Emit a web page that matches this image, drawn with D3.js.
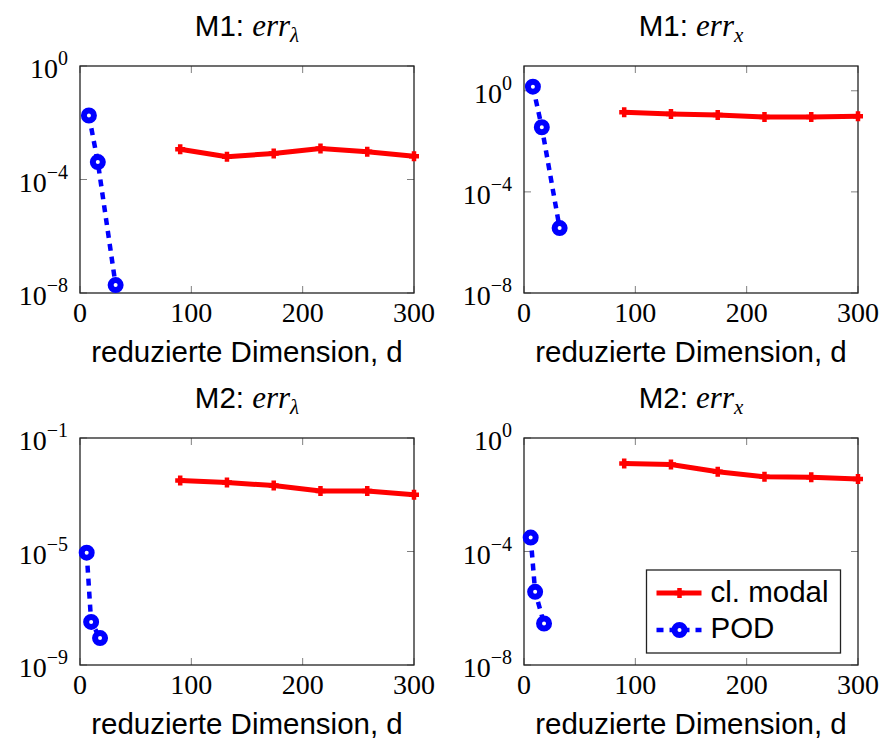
<!DOCTYPE html>
<html>
<head>
<meta charset="utf-8">
<script src="https://cdn.jsdelivr.net/npm/d3@7"></script>
<style>
  body { margin: 0; background: #fff; }
  svg { display: block; }
</style>
</head>
<body>
<div id="chart"></div>
<script>
// DATA
var xTickValues = [0, 100, 200, 300];
var modalDims = [90, 132, 174, 216, 258, 300];
var podDimsM1 = [8, 16, 32];
var podDimsM2 = [6, 10, 18];

var modalM1Lambda = [1.17e-3, 6.3e-4, 8.3e-4, 1.23e-3, 9.5e-4, 6.6e-4];
var podM1Lambda = [1.8e-2, 4.1e-4, 1.9e-8];

var modalM1X = [0.14, 0.12, 0.11, 0.091, 0.091, 0.098];
var podM1X = [1.45, 0.036, 3.7e-6];

var modalM2Lambda = [3.2e-3, 2.7e-3, 2.1e-3, 1.35e-3, 1.35e-3, 1.0e-3];
var podM2Lambda = [9.1e-6, 3.3e-8, 8.9e-9];

var modalM2X = [0.127, 0.117, 0.065, 0.043, 0.041, 0.036];
var podM2X = [3.1e-4, 3.8e-6, 2.9e-7];

var legendLabels = ["cl. modal", "POD"];

// panels
var panels = [
  { title: "M1: ", sub: "λ", x0: 80, y0: 66, yDomain: [1e-8, 1], yTicks: [0, -4, -8],
    modal: modalM1Lambda, podX: podDimsM1, pod: podM1Lambda },
  { title: "M1: ", sub: "x", x0: 524, y0: 66, yDomain: [1e-8, Math.pow(10, 0.98)], yTicks: [0, -4, -8],
    modal: modalM1X, podX: podDimsM1, pod: podM1X },
  { title: "M2: ", sub: "λ", x0: 80, y0: 438, yDomain: [1e-9, 1e-1], yTicks: [-1, -5, -9],
    modal: modalM2Lambda, podX: podDimsM2, pod: podM2Lambda },
  { title: "M2: ", sub: "x", x0: 524, y0: 438, yDomain: [1e-8, 1], yTicks: [0, -4, -8],
    modal: modalM2X, podX: podDimsM2, pod: podM2X, legend: true }
];

var pw = 334, ph = 227, tickLen = 7;
var sans = "Liberation Sans";
var serif = "Liberation Serif";
var red = "#ff0000", blue = "#0000ff";

const svg = d3.select("#chart").append("svg")
  .attr("width", 884).attr("height", 742);

var plusPath = "M-5,0H5M0,-5V5";

panels.forEach(function (p) {
  var x = d3.scaleLinear().domain([0, 300]).range([0, pw]);
  var y = d3.scaleLog().domain(p.yDomain).range([ph, 0]);

  var g = svg.append("g")
    .attr("transform", "translate(" + p.x0 + "," + p.y0 + ")");

  // ticks, inside on all four sides
  xTickValues.forEach(function (t) {
    g.append("line").attr("x1", x(t)).attr("x2", x(t)).attr("y1", ph).attr("y2", ph - tickLen)
      .attr("stroke", "#808080").attr("stroke-width", 1);
    g.append("line").attr("x1", x(t)).attr("x2", x(t)).attr("y1", 0).attr("y2", tickLen)
      .attr("stroke", "#808080").attr("stroke-width", 1);
    g.append("text")
      .attr("x", x(t)).attr("y", ph + 29)
      .attr("text-anchor", "middle")
      .style("font-family", serif).style("font-size", "28px")
      .text(t);
  });

  p.yTicks.forEach(function (e) {
    var yy = y(Math.pow(10, e));
    g.append("line").attr("x1", 0).attr("x2", tickLen).attr("y1", yy).attr("y2", yy)
      .attr("stroke", "#808080").attr("stroke-width", 1);
    g.append("line").attr("x1", pw).attr("x2", pw - tickLen).attr("y1", yy).attr("y2", yy)
      .attr("stroke", "#808080").attr("stroke-width", 1);
    var t = g.append("text")
      .attr("x", -12).attr("y", yy + 12)
      .attr("text-anchor", "end")
      .style("font-family", serif).style("font-size", "28px");
    t.append("tspan").text("10");
    t.append("tspan").attr("dy", -13).style("font-size", "20px")
      .text(e < 0 ? "\u2212" + (-e) : String(e));
  });

  // frame
  g.append("rect").attr("width", pw).attr("height", ph)
    .attr("fill", "none").attr("stroke", "#222").attr("stroke-width", 1.3);

  // title
  var tt = g.append("text")
    .attr("x", pw / 2).attr("y", -30)
    .attr("text-anchor", "middle");
  tt.append("tspan").style("font-family", sans).style("font-size", "29.5px").text(p.title);
  tt.append("tspan").style("font-family", serif).style("font-style", "italic")
    .style("font-size", "31px").text("err");
  tt.append("tspan").attr("dy", 6).style("font-family", serif).style("font-style", "italic")
    .style("font-size", "21px").text(p.sub);

  // x label
  g.append("text")
    .attr("x", pw / 2).attr("y", ph + 69)
    .attr("text-anchor", "middle")
    .style("font-family", sans).style("font-size", "29.5px")
    .text("reduzierte Dimension, d");

  // cl. modal
  var modalData = modalDims.map(function (d, i) { return { d: d, v: p.modal[i] }; });
  var line = d3.line().x(function (d) { return x(d.d); }).y(function (d) { return y(d.v); });
  g.append("path").datum(modalData).attr("d", line)
    .attr("fill", "none").attr("stroke", red).attr("stroke-width", 5)
    .attr("stroke-linejoin", "round");
  g.selectAll(".plus").data(modalData).enter().append("path")
    .attr("class", "plus")
    .attr("transform", function (d) { return "translate(" + x(d.d) + "," + y(d.v) + ")"; })
    .attr("d", plusPath).attr("stroke", red).attr("stroke-width", 4.5);

  // POD
  var podData = p.podX.map(function (d, i) { return { d: d, v: p.pod[i] }; });
  g.append("path").datum(podData).attr("d", line)
    .attr("fill", "none").attr("stroke", blue).attr("stroke-width", 4.5)
    .attr("stroke-dasharray", "7,6");
  g.selectAll(".circ").data(podData).enter().append("circle")
    .attr("class", "circ")
    .attr("cx", function (d) { return x(d.d); })
    .attr("cy", function (d) { return y(d.v); })
    .attr("r", 5)
    .attr("fill", "#fff").attr("stroke", blue).attr("stroke-width", 6);

  if (p.legend) {
    var lg = g.append("g").attr("transform", "translate(" + (646.5 - p.x0) + "," + (570 - p.y0) + ")");
    lg.append("rect").attr("width", 194).attr("height", 83)
      .attr("fill", "#fff").attr("stroke", "#222").attr("stroke-width", 1.3);
    // row 1
    lg.append("line").attr("x1", 10).attr("x2", 55).attr("y1", 23).attr("y2", 23)
      .attr("stroke", red).attr("stroke-width", 5);
    lg.append("path").attr("transform", "translate(33,23)").attr("d", plusPath)
      .attr("stroke", red).attr("stroke-width", 4.5);
    lg.append("text").attr("x", 64).attr("y", 32)
      .style("font-family", sans).style("font-size", "29.5px").text(legendLabels[0]);
    // row 2
    lg.append("line").attr("x1", 10).attr("x2", 55).attr("y1", 60).attr("y2", 60)
      .attr("stroke", blue).attr("stroke-width", 4.5).attr("stroke-dasharray", "7,6");
    lg.append("circle").attr("cx", 33).attr("cy", 60).attr("r", 5)
      .attr("fill", "#fff").attr("stroke", blue).attr("stroke-width", 6);
    lg.append("text").attr("x", 64).attr("y", 68)
      .style("font-family", sans).style("font-size", "29.5px").text(legendLabels[1]);
  }
});
</script>
</body>
</html>
